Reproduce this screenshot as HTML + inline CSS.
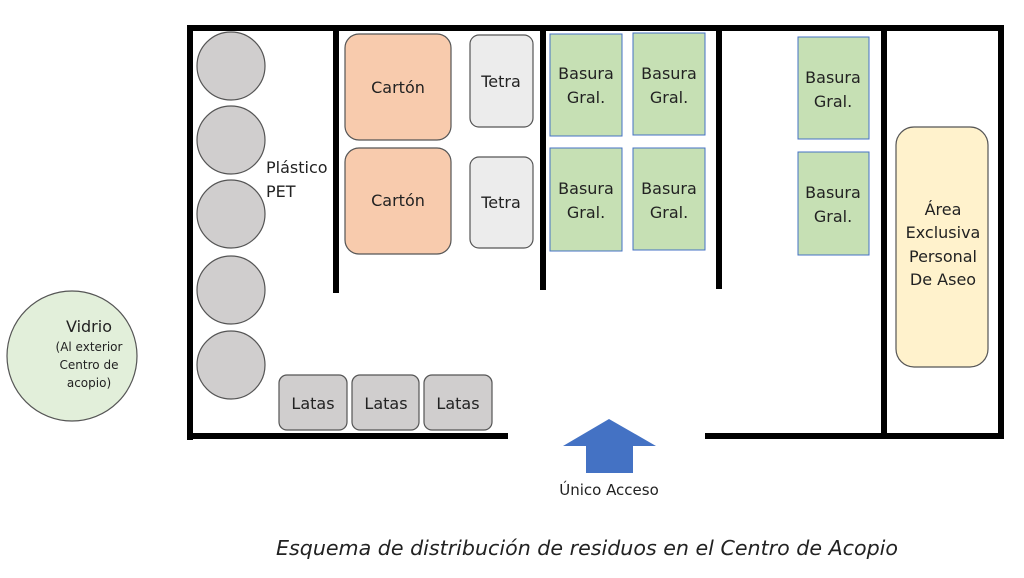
<!DOCTYPE html>
<html><head><meta charset="utf-8"><style>
body{margin:0;background:#fff}
svg text{font-family:"DejaVu Sans","Liberation Sans",sans-serif;fill:#222}
</style></head><body>
<svg width="1024" height="573" viewBox="0 0 1024 573" xmlns="http://www.w3.org/2000/svg">
<g fill="#000">
<rect x="187" y="25" width="817" height="6"/>
<rect x="187" y="25" width="6" height="415"/>
<rect x="187" y="433" width="321" height="6"/>
<rect x="705" y="433" width="299" height="6"/>
<rect x="998" y="25" width="6" height="414"/>
<rect x="333" y="27" width="6" height="266"/>
<rect x="540" y="27" width="6" height="263"/>
<rect x="716" y="27" width="6" height="262"/>
<rect x="881" y="27" width="6" height="410"/>
</g>
<g fill="#d0cece" stroke="#555" stroke-width="1.2">
<circle cx="231" cy="66" r="34"/><circle cx="231" cy="140" r="34"/><circle cx="231" cy="214" r="34"/><circle cx="231" cy="290" r="34"/><circle cx="231" cy="365" r="34"/>
</g>
<g fill="#f8cbad" stroke="#555" stroke-width="1.2">
<rect x="345" y="34" width="106" height="106" rx="14"/><rect x="345" y="148" width="106" height="106" rx="14"/>
</g>
<g fill="#ececec" stroke="#555" stroke-width="1.2">
<rect x="470" y="35" width="63" height="92" rx="9"/><rect x="470" y="157" width="63" height="91" rx="9"/>
</g>
<g fill="#d0cece" stroke="#555" stroke-width="1.2">
<rect x="279" y="375" width="68" height="55" rx="8"/><rect x="352" y="375" width="67" height="55" rx="8"/><rect x="424" y="375" width="68" height="55" rx="8"/>
</g>
<g fill="#c6e0b4" stroke="#4472c4" stroke-width="1">
<rect x="550" y="34" width="72" height="102"/><rect x="633" y="33" width="72" height="102"/>
<rect x="550" y="148" width="72" height="103"/><rect x="633" y="148" width="72" height="102"/>
<rect x="798" y="37" width="71" height="102"/><rect x="798" y="152" width="71" height="103"/>
</g>
<rect x="896" y="127" width="92" height="240" rx="18" fill="#fff2cc" stroke="#555" stroke-width="1.2"/>
<circle cx="72" cy="356" r="65" fill="#e2efda" stroke="#555" stroke-width="1.2"/>
<polygon points="609,419 656,446 633,446 633,473 586,473 586,446 563,446" fill="#4472c4"/>
<g font-size="16" text-anchor="middle">
<text x="398" y="93">Cartón</text><text x="398" y="206">Cartón</text>
<text x="501" y="87">Tetra</text><text x="501" y="208">Tetra</text>
<text x="313" y="409">Latas</text><text x="386" y="409">Latas</text><text x="458" y="409">Latas</text>
<text x="586" y="79">Basura</text><text x="586" y="103">Gral.</text>
<text x="669" y="79">Basura</text><text x="669" y="103">Gral.</text>
<text x="586" y="194">Basura</text><text x="586" y="218">Gral.</text>
<text x="669" y="194">Basura</text><text x="669" y="218">Gral.</text>
<text x="833" y="83">Basura</text><text x="833" y="107">Gral.</text>
<text x="833" y="198">Basura</text><text x="833" y="222">Gral.</text>
<text x="943" y="215">Área</text><text x="943" y="238">Exclusiva</text><text x="943" y="262">Personal</text><text x="943" y="285">De Aseo</text>
<text x="89" y="332">Vidrio</text>
<text x="609" y="495" font-size="15">Único Acceso</text>
</g>
<g font-size="12" text-anchor="middle">
<text x="89" y="351">(Al exterior</text><text x="89" y="369">Centro de</text><text x="89" y="387">acopio)</text>
</g>
<text x="266" y="173" font-size="16">Plástico</text>
<text x="266" y="197" font-size="16">PET</text>
<text x="587" y="555" font-size="20" font-style="italic" text-anchor="middle" textLength="622" lengthAdjust="spacingAndGlyphs">Esquema de distribución de residuos en el Centro de Acopio</text>
</svg>
</body></html>
